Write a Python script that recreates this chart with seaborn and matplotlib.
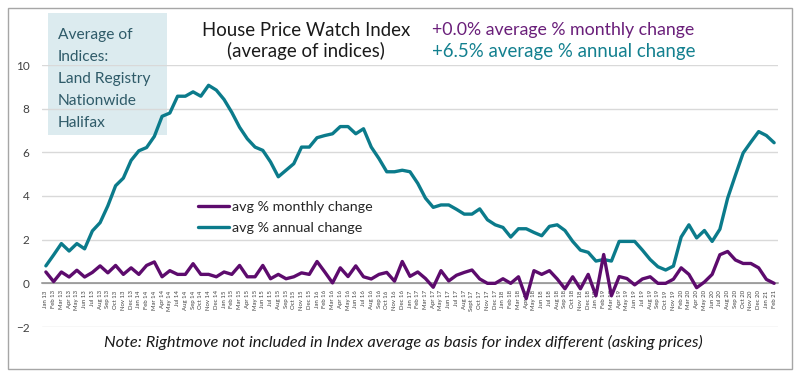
#%%
import numpy as np
import pandas as pd
import seaborn as sns
import matplotlib.pyplot as plt
from matplotlib.patches import Rectangle

sns.set_theme(style="white")
plt.rcParams["font.family"] = ["Lato", "DejaVu Sans"]

#%% data
months = [
    "Jan 13", "Feb 13", "Mar 13", "Apr 13", "May 13", "Jun 13", "Jul 13", "Aug 13", "Sep 13", "Oct 13", "Nov 13", "Dec 13",
    "Jan 14", "Feb 14", "Mar 14", "Apr 14", "May 14", "Jul 14", "Aug 14", "Sep 14", "Oct 14", "Nov 14", "Dec 14",
    "Jan 15", "Feb 15", "Mar 15", "Apr 15", "May 15", "Jun 15", "Jul 15", "Aug 15", "Sep 15", "Oct 15", "Nov 15", "Dec 15",
    "Jan 16", "Feb 16", "Mar 16", "Apr 16", "May 16", "Jun 16", "Jul 16", "Aug 16", "Sep 16", "Oct 16", "Nov 16", "Dec 16",
    "Jan 17", "Feb 17", "Mar 17", "Apr 17", "May 17", "Jun 17", "Jul 17", "Aug 17", "Sept 17", "Oct 17", "Nov 17", "Dec 17",
    "Jan 18", "Feb 18", "Mar 18", "Apr 18", "May 18", "Jun 18", "Jul 18", "Aug 18", "Sep 18", "Oct 18", "Nov 18", "Dec 18",
    "Jan 19", "Feb 19", "Mar 19", "Apr 19", "May 19", "Jun 19", "Jul 19", "Aug 19", "Sep 19", "Oct 19", "Nov 19",
    "Feb 20", "Mar 20", "Apr 20", "May 20", "Jun 20", "Jul 20", "Aug 20", "Sep 20", "Oct 20", "Nov 20", "Dec 20",
    "Jan 21", "Feb 21",
]

monthly = [
    0.52, 0.08, 0.52, 0.29, 0.60, 0.29, 0.50, 0.80, 0.48, 0.82,
    0.41, 0.71, 0.41, 0.82, 0.98, 0.30, 0.58, 0.41, 0.41, 0.90,
    0.41, 0.41, 0.30, 0.52, 0.41, 0.82, 0.30, 0.30, 0.82, 0.21,
    0.41, 0.21, 0.30, 0.48, 0.41, 1.00, 0.52, 0.02, 0.71, 0.31,
    0.80, 0.30, 0.20, 0.41, 0.50, 0.10, 1.00, 0.32, 0.52, 0.22,
    -0.18, 0.58, 0.11, 0.37, 0.50, 0.61, 0.20, 0.00, 0.00, 0.21,
    0.00, 0.30, -0.70, 0.58, 0.41, 0.58, 0.20, -0.25, 0.30, -0.25,
    0.41, -0.57, 1.32, -0.57, 0.31, 0.22, -0.07, 0.20, 0.30, 0.00,
    0.00, 0.19, 0.71, 0.41, -0.20, 0.06, 0.41, 1.31, 1.46, 1.07,
    0.91, 0.91, 0.71, 0.18, 0.00,
]

annual = [
    0.80, 1.30, 1.82, 1.48, 1.82, 1.58, 2.40, 2.78, 3.55, 4.47,
    4.82, 5.63, 6.07, 6.22, 6.73, 7.65, 7.80, 8.57, 8.57, 8.77,
    8.57, 9.07, 8.85, 8.42, 7.83, 7.15, 6.62, 6.24, 6.09, 5.56,
    4.88, 5.18, 5.48, 6.24, 6.24, 6.67, 6.77, 6.85, 7.18, 7.18,
    6.85, 7.08, 6.24, 5.71, 5.11, 5.11, 5.18, 5.11, 4.58, 3.90,
    3.48, 3.59, 3.59, 3.39, 3.17, 3.17, 3.41, 2.91, 2.68, 2.56,
    2.12, 2.50, 2.50, 2.33, 2.18, 2.61, 2.68, 2.42, 1.92, 1.52,
    1.42, 1.02, 1.09, 1.02, 1.92, 1.92, 1.92, 1.52, 1.09, 0.76,
    0.61, 0.79, 2.12, 2.68, 2.08, 2.42, 1.92, 2.48, 3.90, 4.95,
    5.97, 6.47, 6.95, 6.77, 6.44,
]

box_lines = ["Average of", "Indices:", "Land Registry", "Nationwide", "Halifax"]

#%%
purple = "#5d0b6d"
teal = "#0b7b8b"

df = pd.DataFrame({"pos": np.arange(len(months)), "month": months,
                   "avg % monthly change": monthly, "avg % annual change": annual})
dfl = df.melt(id_vars=["pos", "month"], var_name="series", value_name="pct")

W, H = 801, 376
fx = lambda px: px / W
fy = lambda py: 1 - py / H

fig = plt.figure(figsize=(W / 100, H / 100), dpi=100)

# box with the indices, behind the plot
fig.patches.append(Rectangle((fx(48), fy(135)), 119 / W, 122 / H, transform=fig.transFigure,
                             facecolor="#dcebef", edgecolor="none", zorder=-1))

ax = fig.add_axes([fx(42), fy(327), 736 / W, 262 / H])
ax.set_facecolor("none")
ax.set_zorder(1)

sns.lineplot(data=dfl, x="pos", y="pct", hue="series", palette=[purple, teal],
             linewidth=2.4, ax=ax)
ax.lines[0].set_zorder(3)

ax.set_xlim(-0.5, len(months) - 0.5)
ax.set_ylim(-2, 10)
ax.set_yticks(np.arange(-2, 11, 2))
ax.set_xticks(df.pos)
ax.set_xticklabels(months)
ax.set(xlabel="", ylabel="")
ax.tick_params(axis="x", length=0, pad=5, labelsize=4.3, labelrotation=90, labelcolor="#404040")
ax.tick_params(axis="y", length=0, pad=9, labelsize=8.5, labelcolor="#404040")
for s in ["top", "right", "left"]:
    ax.spines[s].set_visible(False)
ax.spines["bottom"].set_position(("data", 0))
ax.spines["bottom"].set_color("#8c8c8c")
ax.spines["bottom"].set_linewidth(1.1)
ax.grid(axis="y", color="#d9d9d9", linewidth=1)
ax.grid(axis="x", visible=False)
ax.set_axisbelow(True)

leg = ax.legend(loc="upper left", bbox_to_anchor=(fx(198), fy(201)), bbox_transform=fig.transFigure,
                frameon=False, fontsize=10.3, handlelength=2.2, handletextpad=0.2,
                labelspacing=0.6, borderpad=0, borderaxespad=0)
for t in leg.get_texts():
    t.set_color("#262626")

for i, line in enumerate(box_lines):
    fig.text(fx(58), fy(35 + 22 * i), line, ha="left", va="center", fontsize=11.2, color="#2f5b69")

fig.text(fx(306), fy(30), "House Price Watch Index", ha="center", va="center", fontsize=13.4, color="#1a1a1a")
fig.text(fx(306), fy(51), "(average of indices)", ha="center", va="center", fontsize=13.4, color="#1a1a1a")
fig.text(fx(432), fy(30), "+0.0% average % monthly change", ha="left", va="center", fontsize=12.8, color="#6a1f7a")
fig.text(fx(432), fy(51), "+6.5% average % annual change", ha="left", va="center", fontsize=13.4, color="#13808f")

fig.text(fx(403), fy(342), "Note: Rightmove not included in Index average as basis for index different (asking prices)",
         ha="center", va="center", fontsize=11.8, style="italic", color="#1a1a1a")

fig.patches.append(Rectangle((fx(8), fy(369)), 784 / W, 361 / H, transform=fig.transFigure,
                             fill=False, edgecolor="#a6a6a6", linewidth=1))

fig.savefig("out.png", dpi=100)
